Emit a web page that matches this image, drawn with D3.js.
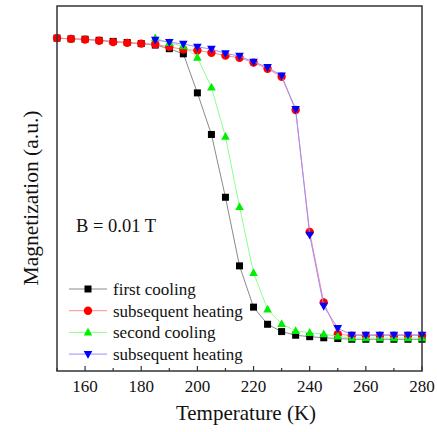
<!DOCTYPE html>
<html>
<head>
<meta charset="utf-8">
<script src="https://cdn.jsdelivr.net/npm/d3@7"></script>
<style>
  body { margin: 0; background: #fff; }
  svg { display: block; }
</style>
</head>
<body>
<svg id="chart" width="437" height="432"></svg>
<script>
// data (magnetization normalised, a.u.)
var tempAll = [150,155,160,165,170,175,180,185,190,195,200,205,210,215,220,225,230,235,240,245,250,255,260,265,270,275,280];
var tempSecond = [185,190,195,200,205,210,215,220,225,230,235,240,245,250,255,260,265,270,275,280];

var firstCooling = [0.912,0.910,0.909,0.906,0.903,0.900,0.897,0.893,0.883,0.869,0.762,0.648,0.476,0.288,0.175,0.128,0.108,0.098,0.094,0.091,0.089,0.087,0.087,0.087,0.087,0.087,0.087];
var firstHeating = [0.912,0.910,0.908,0.905,0.901,0.899,0.897,0.895,0.888,0.881,0.878,0.872,0.864,0.858,0.845,0.828,0.806,0.715,0.381,0.188,0.101,0.097,0.097,0.097,0.097,0.097,0.097];
var secondCooling = [0.912,0.899,0.890,0.859,0.777,0.642,0.450,0.269,0.169,0.129,0.110,0.105,0.101,0.095,0.090,0.090,0.090,0.090,0.090,0.090];
var secondHeating = [0.907,0.901,0.896,0.888,0.882,0.870,0.863,0.847,0.832,0.809,0.717,0.373,0.178,0.117,0.099,0.099,0.099,0.099,0.099,0.099];

var xTicks = [160,180,200,220,240,260,280];
var xMinor = [150,170,190,210,230,250,270];

var series = [
  {name: "first cooling", t: tempAll, m: firstCooling, line: "#8a8a8a", fill: "#000000", sym: "square"},
  {name: "subsequent heating", t: tempAll, m: firstHeating, line: "#ff8c8c", fill: "#ff0000", sym: "circle"},
  {name: "second cooling", t: tempSecond, m: secondCooling, line: "#8cff8c", fill: "#00ee00", sym: "up"},
  {name: "subsequent heating", t: tempSecond, m: secondHeating, line: "#a08cff", fill: "#0000ff", sym: "down"}
];

var serif = "Liberation Serif";
var svg = d3.select("#chart");
var pLeft = 57, pRight = 422, pTop = 6, pBottom = 371;

var x = d3.scaleLinear().domain([150, 280]).range([pLeft, pRight]);
var y = d3.scaleLinear().domain([0, 1]).range([pBottom, pTop]);

// draw a marker
function marker(g, kind, color, cx, cy) {
  if (kind == "square") {
    g.append("rect").attr("x", cx - 3.5).attr("y", cy - 3.5).attr("width", 7).attr("height", 7).attr("fill", color);
  } else if (kind == "circle") {
    g.append("circle").attr("cx", cx).attr("cy", cy).attr("r", 4.2).attr("fill", color);
  } else {
    var s = kind == "up" ? 1 : -1;
    var pts = [[cx, cy - s * 4.6], [cx - 4.3, cy + s * 3.2], [cx + 4.3, cy + s * 3.2]];
    g.append("polygon").attr("points", pts.map(function(p) { return p.join(","); }).join(" ")).attr("fill", color);
  }
}

var line = d3.line();
var plot = svg.append("g");

series.forEach(function(s) {
  var pts = s.t.map(function(t, i) { return [x(t), y(s.m[i])]; });
  plot.append("path").attr("d", line(pts)).attr("fill", "none").attr("stroke", s.line).attr("stroke-width", 1);
  var g = plot.append("g");
  pts.forEach(function(p) { marker(g, s.sym, s.fill, p[0], p[1]); });
});

// frame
svg.append("rect").attr("x", pLeft).attr("y", pTop).attr("width", pRight - pLeft).attr("height", pBottom - pTop)
  .attr("fill", "none").attr("stroke", "#333").attr("stroke-width", 1.5);

// bottom ticks (inward)
var axis = svg.append("g");
axis.selectAll(".maj").data(xTicks).enter().append("line")
  .attr("x1", function(d) { return x(d); }).attr("x2", function(d) { return x(d); })
  .attr("y1", pBottom).attr("y2", pBottom - 5).attr("stroke", "#333").attr("stroke-width", 1.2);
axis.selectAll(".min").data(xMinor).enter().append("line")
  .attr("x1", function(d) { return x(d); }).attr("x2", function(d) { return x(d); })
  .attr("y1", pBottom).attr("y2", pBottom - 3).attr("stroke", "#333").attr("stroke-width", 1.2);
axis.selectAll("text").data(xTicks).enter().append("text")
  .attr("x", function(d) { return x(d); }).attr("y", 392)
  .attr("text-anchor", "middle").attr("font-family", serif).attr("font-size", 17).attr("fill", "#111")
  .text(function(d) { return d; });

svg.append("text").attr("x", 246).attr("y", 420).attr("text-anchor", "middle")
  .attr("font-family", serif).attr("font-size", 21).attr("fill", "#111").text("Temperature (K)");
svg.append("text").attr("transform", "translate(38,198) rotate(-90)").attr("text-anchor", "middle")
  .attr("font-family", serif).attr("font-size", 21.5).attr("fill", "#111").text("Magnetization (a.u.)");

svg.append("text").attr("x", 76).attr("y", 232).attr("font-family", serif).attr("font-size", 18.5).attr("fill", "#111")
  .text("B = 0.01 T");

// legend
var leg = svg.append("g");
series.forEach(function(s, i) {
  var cy = 289 + i * 21.7;
  leg.append("line").attr("x1", 69).attr("x2", 107).attr("y1", cy).attr("y2", cy)
    .attr("stroke", s.line).attr("stroke-width", 1);
  marker(leg, s.sym, s.fill, 88, cy);
  leg.append("text").attr("x", 113).attr("y", cy + 6).attr("font-family", serif).attr("font-size", 17).attr("fill", "#111").text(s.name);
});
</script>
</body>
</html>
